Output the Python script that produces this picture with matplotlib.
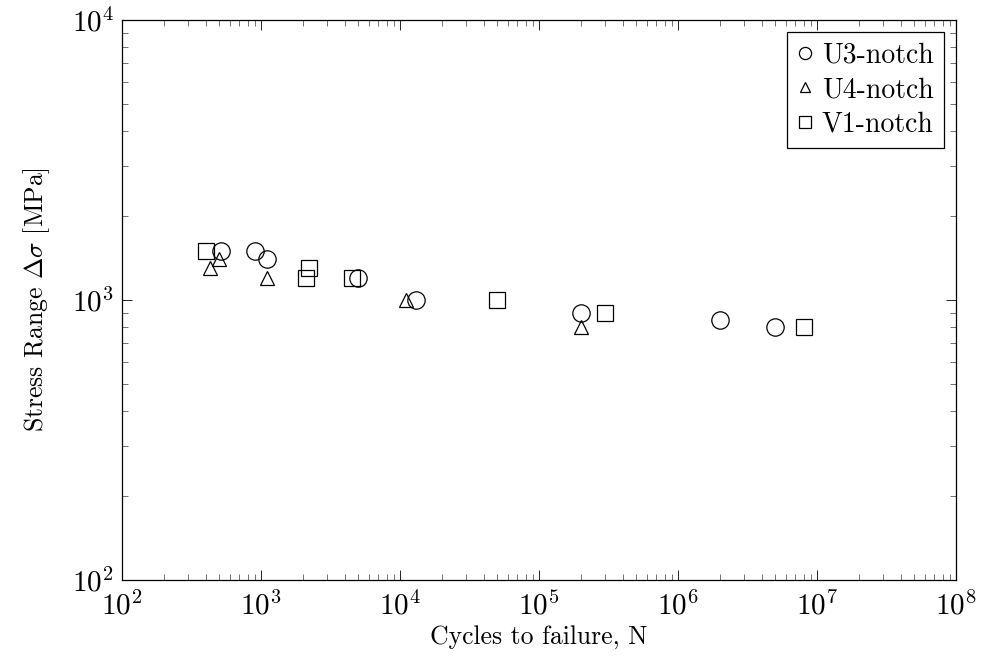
import matplotlib

matplotlib.use("Agg")
import matplotlib.pyplot as plt
from matplotlib.ticker import FixedLocator, LogLocator, NullFormatter

# data (cycles to failure, stress range in MPa)
u3_cycles = [520, 900, 1100, 5000, 13000, 2.0e5, 2.0e6, 5.0e6]
u3_stress = [1500, 1500, 1400, 1200, 1000, 900, 850, 800]
u4_cycles = [430, 500, 1100, 11000, 2.0e5]
u4_stress = [1300, 1400, 1200, 1000, 800]
v1_cycles = [400, 2100, 2200, 4500, 50000, 3.0e5, 8.0e6]
v1_stress = [1500, 1200, 1300, 1200, 1000, 900, 800]

x_ticks = [1e2, 1e3, 1e4, 1e5, 1e6, 1e7, 1e8]
y_ticks = [1e2, 1e3, 1e4]

plt.rcParams["font.family"] = ["cmr10", "DejaVu Serif"]
plt.rcParams["mathtext.fontset"] = "cm"
plt.rcParams["axes.formatter.use_mathtext"] = True
plt.rcParams["axes.unicode_minus"] = False


def main():
    fig = plt.figure(figsize=(9.86, 6.62), dpi=100)
    ax = fig.add_axes([0.1237, 0.1239, 0.8459, 0.8459])

    style = dict(linestyle="none", markerfacecolor="none",
                 markeredgecolor="black", markeredgewidth=0.9)
    ax.plot(u3_cycles, u3_stress, marker="o", markersize=12.5,
            label="U3-notch", **style)
    ax.plot(u4_cycles, u4_stress, marker="^", markersize=10,
            label="U4-notch", **style)
    ax.plot(v1_cycles, v1_stress, marker="s", markersize=11.5,
            label="V1-notch", **style)

    ax.set_xscale("log")
    ax.set_yscale("log")
    ax.set_xlim(x_ticks[0], x_ticks[-1])
    ax.set_ylim(y_ticks[0], y_ticks[-1])
    ax.xaxis.set_major_locator(FixedLocator(x_ticks))
    ax.yaxis.set_major_locator(FixedLocator(y_ticks))
    ax.xaxis.set_minor_locator(LogLocator(base=10, subs=range(2, 10), numticks=20))
    ax.yaxis.set_minor_locator(LogLocator(base=10, subs=range(2, 10), numticks=20))
    ax.xaxis.set_minor_formatter(NullFormatter())
    ax.yaxis.set_minor_formatter(NullFormatter())

    ax.tick_params(which="both", direction="in", top=True, right=True,
                   labelsize=21, width=0.6)
    ax.tick_params(which="major", length=7)
    ax.tick_params(axis="x", which="major", pad=8)
    ax.tick_params(axis="y", which="major", pad=6)
    ax.tick_params(which="minor", length=4.5, color="0.35")
    for spine in ax.spines.values():
        spine.set_linewidth(0.9)

    ax.set_xlabel("Cycles to failure, N", fontsize=18.5, labelpad=3)
    ax.set_ylabel(r"Stress Range $\Delta\sigma$ [MPa]", fontsize=18.5, labelpad=14)

    leg = ax.legend(loc="upper right", fontsize=20, frameon=True, fancybox=False,
                    edgecolor="black", framealpha=1, markerscale=0.7,
                    handlelength=0.6, handletextpad=0.3, borderpad=0.35,
                    labelspacing=0.3, borderaxespad=0.45)
    leg.get_frame().set_linewidth(0.9)

    fig.savefig("out.png", dpi=100)
    plt.close(fig)


if __name__ == "__main__":
    main()
